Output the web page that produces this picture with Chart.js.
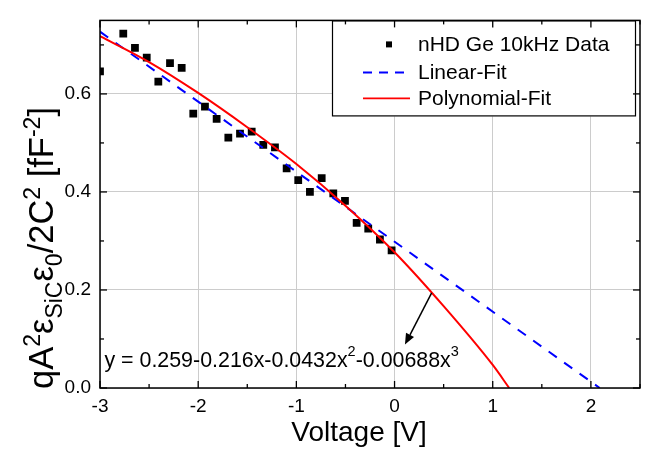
<!DOCTYPE html>
<html><head><meta charset="utf-8">
<script src="https://cdn.jsdelivr.net/npm/chart.js@4.4.1/dist/chart.umd.min.js"></script>
<style>html,body{margin:0;padding:0;background:#fff;}#wrap{width:661px;height:452px;}</style>
</head><body><div id="wrap"><canvas id="c" width="661" height="452"></canvas></div>
<script>
// ---- data ----
const voltage = [-3.0,-2.763,-2.644,-2.524,-2.406,-2.287,-2.168,-2.05,-1.931,-1.812,-1.693,-1.574,-1.455,-1.337,-1.218,-1.099,-0.981,-0.862,-0.742,-0.624,-0.505,-0.386,-0.268,-0.149,-0.030];
const measured = [0.646,0.723,0.694,0.674,0.625,0.663,0.653,0.560,0.574,0.549,0.511,0.519,0.523,0.496,0.491,0.448,0.424,0.400,0.428,0.397,0.382,0.337,0.325,0.303,0.281];
const linearX = [-3.0, 2.09];
const linearY = [0.727, 0.0];
const polyX = [-3,-2.5,-2,-1.5,-1,-0.5,0,0.5,1,1.168];
const polyY = [0.718,0.665,0.602,0.532,0.457,0.372,0.277,0.167,0.047,0.0];
const xTicks = [-3,-2,-1,0,1,2];
const yTicks = [0,0.2,0.4,0.6];
const legendLabels = ['nHD Ge 10kHz Data','Linear-Fit','Polynomial-Fit'];
const equationParts = [['y = 0.259-0.216x-0.0432x','n'],['2','sup'],['-0.00688x','n'],['3','sup']];
const equationAt = [-2.955, 0.042];
const arrowFrom = [0.378, 0.194];
const arrowTo = [0.106, 0.0885];
const xTitle = 'Voltage [V]';
const yTitleParts = [['qA','n'],['2','sup'],['\u03B5','n'],['SiC','sub'],['\u03B5','n'],['0','sub'],['/2C','n'],['2','sup'],[' [fF','n'],['-2','sup'],[']','n']];

const FONT = '"Liberation Sans", Arial, Helvetica, sans-serif';

function drawRich(ctx, parts, x, y, F, f, supOff, subOff){
  let cx = x;
  for (const [t,k] of parts){
    ctx.font = (k==='n'?F:f) + 'px ' + FONT;
    const dy = k==='sup' ? -supOff : (k==='sub' ? subOff : 0);
    ctx.fillText(t, cx, y+dy);
    cx += ctx.measureText(t).width;
  }
  return cx - x;
}
function richWidth(ctx, parts, F, f){
  let w = 0;
  for (const [t,k] of parts){ ctx.font = (k==='n'?F:f) + 'px ' + FONT; w += ctx.measureText(t).width; }
  return w;
}

const decor = {
  id:'decor',
  afterDraw(chart){
    const {ctx, chartArea:a, scales:{x,y}} = chart;
    ctx.save();
    // legend box
    const L = a.right-308, T = a.top, R = a.right-4, B = a.top+96;
    ctx.fillStyle='#fff'; ctx.fillRect(L,T,R-L,B-T);
    ctx.strokeStyle='#000'; ctx.lineWidth=1.2; ctx.strokeRect(L+0.5,T+0.5,R-L-1,B-T-1);
    const sx0 = L+31, sx1 = L+78, tx = L+86;
    const rows = [T+24, T+52, T+78];
    ctx.fillStyle='#000'; ctx.fillRect(L+57-3, rows[0]-3, 6, 6);
    ctx.strokeStyle='#0000ff'; ctx.lineWidth=2; ctx.setLineDash([9,7]);
    ctx.beginPath(); ctx.moveTo(sx0, rows[1]); ctx.lineTo(sx1, rows[1]); ctx.stroke();
    ctx.setLineDash([]);
    ctx.strokeStyle='#ff0000'; ctx.lineWidth=1.6;
    ctx.beginPath(); ctx.moveTo(sx0, rows[2]); ctx.lineTo(sx1, rows[2]); ctx.stroke();
    ctx.fillStyle='#000'; ctx.font='21px '+FONT; ctx.textBaseline='middle'; ctx.textAlign='left';
    legendLabels.forEach((t,i)=>ctx.fillText(t, tx, rows[i]+1));

    // frame
    ctx.strokeStyle='#000'; ctx.lineWidth=1.5;
    ctx.strokeRect(a.left, a.top, a.right-a.left, a.bottom-a.top);
    // inward ticks on all four sides
    ctx.lineWidth=1.3;
    const seg=(x0,y0,x1,y1)=>{ctx.beginPath();ctx.moveTo(x0,y0);ctx.lineTo(x1,y1);ctx.stroke();};
    for (let i=0;i<=11;i++){
      const v = -3 + i*0.5; const major = (i%2===0); const len = major?7:4;
      const p = x.getPixelForValue(v);
      seg(p,a.bottom,p,a.bottom-len); seg(p,a.top,p,a.top+len);
    }
    for (let i=0;i<=7;i++){
      const v = i*0.1; const major = (i%2===0); const len = major?7:4;
      const p = y.getPixelForValue(v);
      seg(a.left,p,a.left+len,p); seg(a.right,p,a.right-len,p);
    }

    // equation
    ctx.fillStyle='#000'; ctx.textBaseline='alphabetic'; ctx.textAlign='left';
    drawRich(ctx, equationParts, x.getPixelForValue(equationAt[0]), y.getPixelForValue(equationAt[1]), 21.4, 14.5, 11, 0);

    // arrow
    const x0=x.getPixelForValue(arrowFrom[0]), y0=y.getPixelForValue(arrowFrom[1]);
    const x1=x.getPixelForValue(arrowTo[0]), y1=y.getPixelForValue(arrowTo[1]);
    const ang = Math.atan2(y1-y0, x1-x0), hl=11, hw=4.5;
    const bx = x1 - hl*Math.cos(ang), by = y1 - hl*Math.sin(ang);
    ctx.strokeStyle='#000'; ctx.lineWidth=1.5;
    seg(x0,y0,bx,by);
    ctx.beginPath(); ctx.moveTo(x1,y1);
    ctx.lineTo(bx + hw*Math.sin(ang), by - hw*Math.cos(ang));
    ctx.lineTo(bx - hw*Math.sin(ang), by + hw*Math.cos(ang));
    ctx.closePath(); ctx.fill();

    // x title
    ctx.font='28px '+FONT; ctx.textAlign='center'; ctx.textBaseline='middle';
    ctx.fillText(xTitle, 359, 433);

    // y title (rotated)
    ctx.textAlign='left'; ctx.textBaseline='alphabetic';
    const F=34.5, f=23;
    const w = richWidth(ctx, yTitleParts, F, f);
    ctx.translate(53, 248); ctx.rotate(-Math.PI/2);
    drawRich(ctx, yTitleParts, -w/2, 0, F, f, 13.5, 9);
    ctx.restore();
  }
};

new Chart(document.getElementById('c'), {
  type:'scatter',
  data:{datasets:[
    {label:legendLabels[0], data: voltage.map((v,i)=>({x:v,y:measured[i]})), showLine:false,
     pointStyle:'rect', pointRadius:5.5, pointBackgroundColor:'#000', pointBorderColor:'#000', pointBorderWidth:0, clip:0, order:3},
    {label:legendLabels[1], data: linearX.map((v,i)=>({x:v,y:linearY[i]})), showLine:true,
     borderColor:'#0000ff', borderWidth:2, borderDash:[10,9], pointRadius:0, fill:false, clip:0, order:2},
    {label:legendLabels[2], data: polyX.map((v,i)=>({x:v,y:polyY[i]})), showLine:true,
     borderColor:'#ff0000', borderWidth:2, pointRadius:0, fill:false, cubicInterpolationMode:'monotone', clip:0, order:1}
  ]},
  options:{
    responsive:false, animation:false, devicePixelRatio:1,
    layout:{padding:{top:10,right:21,left:0,bottom:0}},
    plugins:{legend:{display:false}, tooltip:{enabled:false}, title:{display:false}},
    scales:{
      x:{type:'linear', min:-3, max:2.5,
         afterBuildTicks:s=>{s.ticks = xTicks.map(v=>({value:v}));},
         afterFit:s=>{s.height=64;},
         grid:{color:'#cccccc', lineWidth:1, drawTicks:false},
         border:{display:false},
         ticks:{color:'#000', font:{family:FONT, size:19}, padding:7, maxRotation:0, callback:v=>String(v)}},
      y:{type:'linear', min:0, max:0.75,
         afterBuildTicks:s=>{s.ticks = yTicks.map(v=>({value:v}));},
         afterFit:s=>{s.width=100;},
         grid:{color:'#cccccc', lineWidth:1, drawTicks:false},
         border:{display:false},
         ticks:{color:'#000', font:{family:FONT, size:19}, padding:9, callback:v=>Number(v).toFixed(1)}}
    }
  },
  plugins:[decor]
});
</script></body></html>
